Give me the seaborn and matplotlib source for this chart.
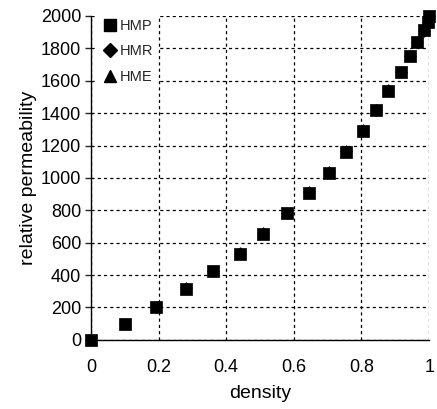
import matplotlib
matplotlib.use("Agg")
import matplotlib.pyplot as plt
import pandas as pd
import seaborn as sns

density = [0.0, 0.10, 0.193, 0.28, 0.36, 0.44, 0.51, 0.58, 0.644, 0.703,
           0.754, 0.804, 0.843, 0.878, 0.917, 0.944, 0.964, 0.985, 0.997, 1.0]
hmp = [0, 100, 205, 315, 425, 532, 655, 784, 907, 1032,
       1162, 1292, 1420, 1538, 1655, 1752, 1840, 1913, 1962, 2000]
hmr = [0, 98, 203, 318, 428, 535, 660, 786, 912, 1035,
       1165, 1296, 1418, 1540, 1652, 1755, 1842, 1910, 1960, 1998]
hme = [0, 102, 207, 320, 426, 538, 663, 788, 915, 1038,
       1168, 1298, 1422, 1543, 1658, 1757, 1845, 1916, 1965, 2000]

rows = []
for name, vals in [("HME", hme), ("HMR", hmr), ("HMP", hmp)]:
    for d, v in zip(density, vals):
        rows.append([d, v, name])
df = pd.DataFrame(rows, columns=["density", "perm", "series"])

sns.set_style("white")
plt.rcParams['font.family'] = ['Liberation Sans', 'DejaVu Sans']

fig = plt.figure(figsize=(4.37, 4.09), dpi=100)
ax = fig.add_axes([0.208, 0.169, 0.774, 0.792])

markers = {"HMP": "s", "HMR": "D", "HME": "^"}
sizes = {"HMP": 75, "HMR": 35, "HME": 40}
for name in ["HME", "HMR", "HMP"]:
    sub = df[df.series == name]
    sns.scatterplot(data=sub, x="density", y="perm", marker=markers[name],
                    s=sizes[name], color="black", edgecolor="black",
                    linewidth=0.5, ax=ax, clip_on=False, zorder=5,
                    legend=False)

ax.set_xlim(0, 1)
ax.set_ylim(0, 2000)
ax.set_xticks([0, 0.2, 0.4, 0.6, 0.8, 1.0])
ax.set_xticklabels(["0", "0.2", "0.4", "0.6", "0.8", "1"])
ax.set_yticks(range(0, 2001, 200))
ax.grid(True, color="black", linestyle=(0, (2.5, 2.5)), linewidth=0.9)
ax.set_axisbelow(True)
for s in ["top", "right"]:
    ax.spines[s].set_visible(False)
for s in ["left", "bottom"]:
    ax.spines[s].set_color("black")
    ax.spines[s].set_linewidth(1.0)
ax.tick_params(axis="y", direction="out", length=4, width=1, labelsize=13,
               left=True, pad=3, labelcolor="black")
ax.tick_params(axis="x", direction="out", length=0, labelsize=13, pad=14,
               labelcolor="black")
ax.set_xlabel("density", fontsize=14, labelpad=6, color="black")
ax.set_ylabel("relative permeability", fontsize=14, labelpad=3, color="black")

handles = [plt.Line2D([], [], marker=markers[n], color="black", linestyle="",
                      markersize=8 if n != "HMR" else 7) for n in ["HMP", "HMR", "HME"]]
leg = ax.legend(handles, ["HMP", "HMR", "HME"], loc="upper left", frameon=True,
                fontsize=10.5, handletextpad=0.1, labelspacing=0.8,
                bbox_to_anchor=(0.008, 1.014), handlelength=1.2,
                borderpad=0.3, borderaxespad=0.2, fancybox=False)
leg.get_frame().set_facecolor("white")
leg.get_frame().set_edgecolor("none")
leg.get_frame().set_alpha(1.0)
leg.set_zorder(10)

fig.savefig("out.png", dpi=100)
